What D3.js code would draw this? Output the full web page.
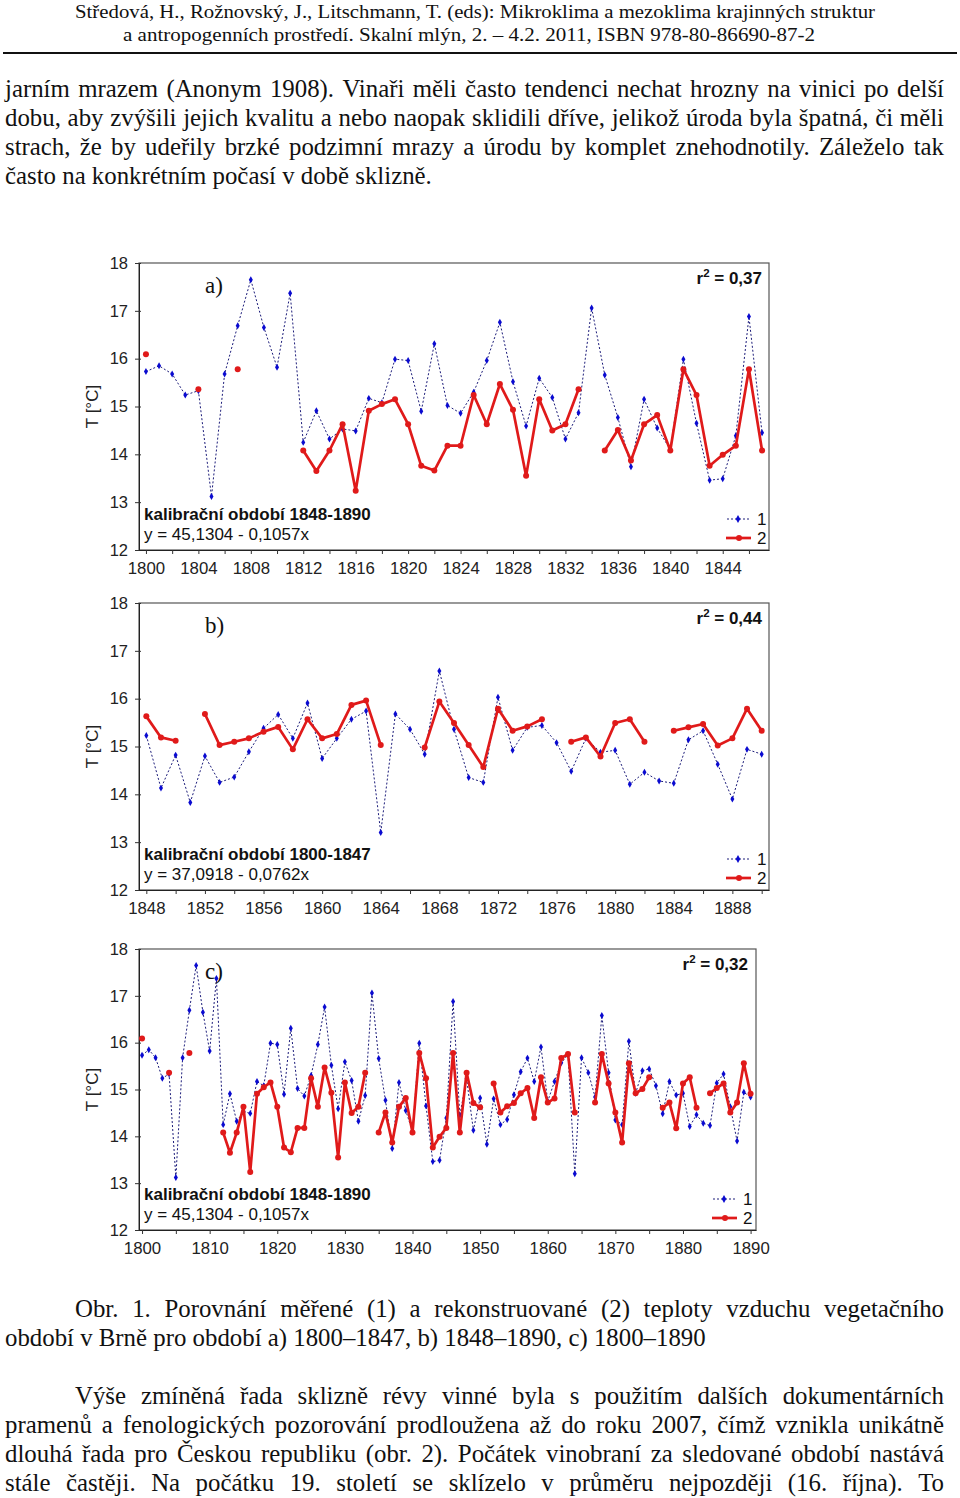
<!DOCTYPE html>
<html><head><meta charset="utf-8">
<script src="https://cdn.jsdelivr.net/npm/d3@7/dist/d3.min.js"></script>
<style>
body{margin:0;background:#fff}
svg{display:block}
</style>
</head><body>
<svg id="page" width="960" height="1498"></svg>
<script>
// ---------------- DATA ----------------
const yearsA = d3.range(1800, 1848);   // 1800–1847
const yearsB = d3.range(1848, 1891);   // 1848–1890
const yearsC = d3.range(1800, 1891);   // 1800–1890

// measured (1), 1800–1847
const measuredA = [15.73,15.85,15.68,15.24,15.33,13.12,15.68,16.69,17.65,16.65,
  15.82,17.37,14.25,14.91,14.32,14.53,14.49,15.17,15.08,15.99,
  15.96,14.90,16.31,15.02,14.86,15.30,15.96,16.76,15.52,14.59,
  15.59,15.19,14.32,14.87,17.06,15.66,14.77,13.74,15.15,14.55,
  14.10,15.99,14.65,13.46,13.49,14.39,16.88,14.45];
// reconstructed (2), 1800–1847, calibration 1848–1890
const reconA = [16.09,null,null,null,15.36,null,null,15.78,null,null,
  null,null,14.08,13.65,14.08,14.63,13.24,14.91,15.05,15.15,
  14.63,13.76,13.66,14.18,14.18,15.24,14.63,15.47,14.93,13.55,
  15.15,14.50,14.63,15.36,null,14.08,14.51,13.87,14.63,14.82,
  14.08,15.78,15.24,13.76,13.99,14.18,15.78,14.08];
// measured (1), 1848–1890
const measuredB = [15.23,14.13,14.82,13.83,14.80,14.25,14.36,14.89,15.38,15.67,
  15.17,15.91,14.75,15.17,15.57,15.74,13.20,15.68,15.36,14.84,
  16.58,15.36,14.35,14.25,16.03,14.92,15.40,15.44,15.08,14.48,
  15.17,14.88,14.92,14.21,14.46,14.28,14.23,15.14,15.33,14.63,
  13.90,14.94,14.84];
// reconstructed (2), 1848–1890, calibration 1800–1847
const reconB = [15.63,15.19,15.12,null,15.68,15.03,15.10,15.17,15.31,15.41,
  14.94,15.57,15.17,15.26,15.87,15.96,15.03,null,null,14.98,
  15.94,15.49,15.03,14.57,15.79,15.33,15.42,15.57,null,15.10,
  15.19,14.79,15.49,15.57,15.10,null,15.33,15.40,15.47,15.02,
  15.17,15.79,15.33];
// reconstructed (2), 1848–1890, calibration 1848–1890 (panel c)
const reconC2 = [15.36,14.71,14.62,null,15.13,14.51,14.64,14.71,14.92,15.03,
  14.39,15.26,14.72,14.81,15.67,15.76,14.51,null,null,14.72,
  15.76,15.13,14.51,13.87,15.56,14.92,15.01,15.26,null,14.61,
  14.72,14.17,15.13,15.26,14.61,null,14.92,15.03,15.13,14.51,
  14.72,15.56,14.91];
const measuredC = measuredA.concat(measuredB);
const reconC = reconA.concat(reconC2);

const yTickValues = [12,13,14,15,16,17,18];
const xTicksA = [1800,1802,1804,1806,1808,1810,1812,1814,1816,1818,1820,1822,1824,1826,1828,1830,1832,1834,1836,1838,1840,1842,1844,1846];
const xLabelsA = [1800,1804,1808,1812,1816,1820,1824,1828,1832,1836,1840,1844];
const xTicksB = [1848,1850,1852,1854,1856,1858,1860,1862,1864,1866,1868,1870,1872,1874,1876,1878,1880,1882,1884,1886,1888,1890];
const xLabelsB = [1848,1852,1856,1860,1864,1868,1872,1876,1880,1884,1888];
const xTicksC = [1800,1805,1810,1815,1820,1825,1830,1835,1840,1845,1850,1855,1860,1865,1870,1875,1880,1885,1890];
const xLabelsC = [1800,1810,1820,1830,1840,1850,1860,1870,1880,1890];

// ---------------- STYLE ----------------
const SANS = "Liberation Sans, Arial, sans-serif";
const SERIF = "Liberation Serif, Times New Roman, serif";
const BLUE_LINE = "#1c1c7a", BLUE_PT = "#0a0ad0", RED = "#e01a1a";
const LBL = 17;

const svg = d3.select("#page");

function drawChart(o) {
  const g = svg.append("g");
  const bottom = o.top + o.height, right = o.left + o.width;
  const x = d3.scaleLinear().domain(o.xDomain).range([o.left, right]);
  const y = d3.scaleLinear().domain([12, 18]).range([bottom, o.top]);

  // frame
  g.append("rect").attr("x", o.left).attr("y", o.top).attr("width", o.width).attr("height", o.height)
    .attr("fill", "#fff").attr("stroke", "#555").attr("stroke-width", 1.2);

  // y axis
  const ya = g.append("g").attr("transform", `translate(${o.left},0)`)
    .call(d3.axisLeft(y).tickValues(yTickValues).tickSizeInner(4).tickSizeOuter(0).tickPadding(7).tickFormat(d3.format("d")));
  ya.select(".domain").attr("stroke", "#222");
  ya.selectAll(".tick line").attr("stroke", "#333").attr("x2", -4).attr("x1", 2);
  ya.selectAll("text").attr("font-family", SANS).attr("font-size", 16.5).attr("fill", "#222");

  // x axis
  const xa = g.append("g").attr("transform", `translate(0,${bottom})`)
    .call(d3.axisBottom(x).tickValues(o.xTicks).tickSizeInner(4).tickSizeOuter(0).tickPadding(8)
      .tickFormat(d => o.xLabels.includes(d) ? String(d) : ""));
  xa.select(".domain").attr("stroke", "#222");
  xa.selectAll(".tick line").attr("stroke", "#333");
  xa.selectAll("text").attr("font-family", SANS).attr("font-size", 16.8).attr("fill", "#222");

  // y label
  g.append("text").attr("transform", `translate(${o.left - 47},${(o.top + bottom) / 2}) rotate(-90)`)
    .attr("text-anchor", "middle").attr("dy", "0.35em")
    .attr("font-family", SANS).attr("font-size", 17).attr("fill", "#222").text("T [°C]");

  const pts = o.years.map((yr, i) => ({ yr, m: o.measured[i], r: o.recon[i] }));

  // series 1
  g.append("path").datum(pts)
    .attr("d", d3.line().x(d => x(d.yr)).y(d => y(d.m)))
    .attr("fill", "none").attr("stroke", BLUE_LINE).attr("stroke-width", 1).attr("stroke-dasharray", "2,2");
  g.selectAll(".m").data(pts).join("path")
    .attr("transform", d => `translate(${x(d.yr)},${y(d.m)})`)
    .attr("d", d3.symbol(d3.symbolDiamond, 14)()).attr("fill", BLUE_PT);

  // series 2
  const def = d => d.r !== null;
  g.append("path").datum(pts)
    .attr("d", d3.line().defined(def).x(d => x(d.yr)).y(d => y(d.r)))
    .attr("fill", "none").attr("stroke", RED).attr("stroke-width", 2.7).attr("stroke-linejoin", "round");
  g.selectAll(".r").data(pts.filter(def)).join("circle")
    .attr("cx", d => x(d.yr)).attr("cy", d => y(d.r)).attr("r", 3).attr("fill", RED);

  // panel letter
  g.append("text").attr("x", o.left + 66).attr("y", o.top + 30)
    .attr("font-family", SERIF).attr("font-size", 23).attr("fill", "#111").text(o.panel);

  // r^2
  const rt = g.append("text").attr("x", right - o.rInset).attr("y", o.top + 21).attr("text-anchor", "end")
    .attr("font-family", SANS).attr("font-size", LBL).attr("font-weight", "bold").attr("fill", "#111");
  rt.append("tspan").text("r");
  rt.append("tspan").attr("dy", -7).attr("font-size", 11.5).text("2");
  rt.append("tspan").attr("dy", 7).text(" = " + o.r2);

  // calibration text
  g.append("text").attr("x", o.left + 5).attr("y", bottom - 30)
    .attr("font-family", SANS).attr("font-size", LBL).attr("font-weight", "bold").attr("fill", "#111").text(o.calib);
  g.append("text").attr("x", o.left + 5).attr("y", bottom - 10)
    .attr("font-family", SANS).attr("font-size", LBL).attr("fill", "#111").text(o.eq);

  // legend
  const lx = right - o.legInset;
  const l1 = bottom - 31, l2 = bottom - 12;
  g.append("line").attr("x1", lx).attr("x2", lx + 22).attr("y1", l1).attr("y2", l1)
    .attr("stroke", BLUE_LINE).attr("stroke-width", 1).attr("stroke-dasharray", "2,2");
  g.append("path").attr("transform", `translate(${lx + 11},${l1})`).attr("d", d3.symbol(d3.symbolDiamond, 18)()).attr("fill", BLUE_PT);
  g.append("line").attr("x1", lx - 1).attr("x2", lx + 24).attr("y1", l2).attr("y2", l2)
    .attr("stroke", RED).attr("stroke-width", 2.7);
  g.append("circle").attr("cx", lx + 12).attr("cy", l2).attr("r", 3).attr("fill", RED);
  g.append("text").attr("x", lx + 30).attr("y", l1).attr("dy", "0.35em")
    .attr("font-family", SANS).attr("font-size", LBL).attr("fill", "#111").text("1");
  g.append("text").attr("x", lx + 30).attr("y", l2).attr("dy", "0.35em")
    .attr("font-family", SANS).attr("font-size", LBL).attr("fill", "#111").text("2");
}

drawChart({ left: 139, top: 263, width: 630, height: 287, xDomain: [1799.47, 1847.53],
  years: yearsA, measured: measuredA, recon: reconA, xTicks: xTicksA, xLabels: xLabelsA,
  panel: "a)", r2: "0,37", calib: "kalibrační období 1848-1890", eq: "y = 45,1304 - 0,1057x",
  rInset: 7, legInset: 42 });
drawChart({ left: 139, top: 603, width: 630, height: 287, xDomain: [1847.5, 1890.5],
  years: yearsB, measured: measuredB, recon: reconB, xTicks: xTicksB, xLabels: xLabelsB,
  panel: "b)", r2: "0,44", calib: "kalibrační období 1800-1847", eq: "y = 37,0918 - 0,0762x",
  rInset: 7, legInset: 42 });
drawChart({ left: 139, top: 949, width: 617, height: 281, xDomain: [1799.55, 1890.8],
  years: yearsC, measured: measuredC, recon: reconC, xTicks: xTicksC, xLabels: xLabelsC,
  panel: "c)", r2: "0,32", calib: "kalibrační období 1848-1890", eq: "y = 45,1304 - 0,1057x",
  rInset: 8, legInset: 43 });

// ---------------- PAGE TEXT ----------------
const header1 = "Středová, H., Rožnovský, J., Litschmann, T. (eds): Mikroklima a mezoklima krajinných struktur";
const header2 = "a antropogenních prostředí. Skalní mlýn, 2. – 4.2. 2011, ISBN 978-80-86690-87-2";
svg.append("text").attr("x", 75).attr("y", 18).attr("textLength", 800).attr("lengthAdjust", "spacingAndGlyphs")
  .attr("font-family", SERIF).attr("font-size", 19).attr("fill", "#111").text(header1);
svg.append("text").attr("x", 123).attr("y", 41).attr("textLength", 692).attr("lengthAdjust", "spacingAndGlyphs")
  .attr("font-family", SERIF).attr("font-size", 19).attr("fill", "#111").text(header2);
svg.append("line").attr("x1", 3).attr("x2", 957).attr("y1", 53).attr("y2", 53).attr("stroke", "#111").attr("stroke-width", 2);

const para1 = [
  "jarním mrazem (Anonym 1908). Vinaři měli často tendenci nechat hrozny na vinici po delší",
  "dobu, aby zvýšili jejich kvalitu a nebo naopak sklidili dříve, jelikož úroda byla špatná, či měli",
  "strach, že by udeřily brzké podzimní mrazy a úrodu by komplet znehodnotily. Záleželo tak",
  "často na konkrétním počasí v době sklizně."];
const caption = [
  "Obr. 1. Porovnání měřené (1) a rekonstruované (2) teploty vzduchu vegetačního",
  "období v Brně pro období a) 1800–1847, b) 1848–1890, c) 1800–1890"];
const para2 = [
  "Výše zmíněná řada sklizně révy vinné byla s použitím dalších dokumentárních",
  "pramenů a fenologických pozorování prodloužena až do roku 2007, čímž vznikla unikátně",
  "dlouhá řada pro Českou republiku (obr. 2). Počátek vinobraní za sledované období nastává",
  "stále častěji. Na počátku 19. století se sklízelo v průměru nejpozději (16. října). To"];

// size body font so that the last line of para1 has its measured width
const probe = svg.append("text").attr("font-family", SERIF).attr("font-size", 20).text(para1[3]);
const pw = probe.node().getComputedTextLength();
probe.remove();
const BODY = pw > 0 ? 20 * 427 / pw : 21;

function textLine(str, x0, x1, y, justify) {
  if (!justify) {
    svg.append("text").attr("x", x0).attr("y", y).attr("font-family", SERIF).attr("font-size", BODY)
      .attr("fill", "#111").text(str);
    return;
  }
  const words = str.split(" ");
  const nodes = words.map(w => svg.append("text").attr("y", y).attr("font-family", SERIF)
    .attr("font-size", BODY).attr("fill", "#111").text(w));
  const widths = nodes.map(n => n.node().getComputedTextLength());
  const total = d3.sum(widths);
  const gap = (x1 - x0 - total) / (words.length - 1);
  let cx = x0;
  nodes.forEach((n, i) => { n.attr("x", cx); cx += widths[i] + gap; });
}
para1.forEach((s, i) => textLine(s, 5, 944, 97 + i * 29, i < 3));
textLine(caption[0], 75, 944, 1317, true);
textLine(caption[1], 5, 944, 1346, false);
para2.forEach((s, i) => textLine(s, i === 0 ? 75 : 5, 944, 1404 + i * 29, true));
</script>
</body></html>
